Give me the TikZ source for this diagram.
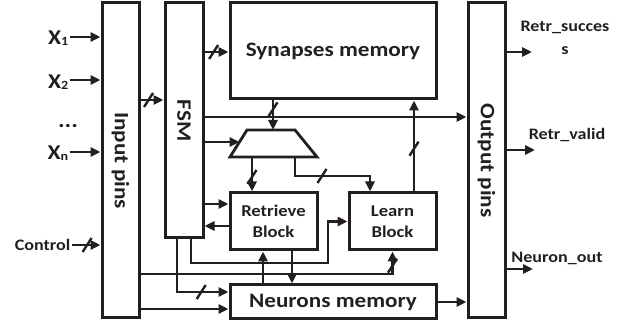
\documentclass[tikz,border=0pt]{standalone}
\usepackage{fontspec}
\setmainfont{Carlito}[FakeStretch=1.13]
\usetikzlibrary{arrows.meta}
\definecolor{ink}{RGB}{35,31,32}
\tikzset{
  box/.style={draw=ink, line width=3pt, inner sep=0pt, text=ink, align=center},
  bigf/.style={font=\bfseries\fontsize{20.5}{24}\selectfont},
  midf/.style={font=\bfseries\fontsize{16.5}{21}\selectfont},
  arr/.style={draw=ink, line width=2.8pt, -{Triangle[length=10pt,width=9pt]}},
  lbl/.style={font=\bfseries\fontsize{16}{23}\selectfont, text=ink, inner sep=1.5pt, align=center},
  xlbl/.style={font=\bfseries\fontsize{21}{22}\selectfont, text=ink, inner sep=1.5pt, anchor=base east},
  pics/bus/.style={code={\draw[ink, line width=2.4pt, -] (-4.5,7) -- (4.5,-7);}}
}
\newcommand\subnum[1]{{\fontsize{12.5}{12}\selectfont\raisebox{-0.5pt}{#1}}}
\begin{document}
\begin{tikzpicture}[x=1pt,y=-1pt]
\useasboundingbox (0,0) rectangle (633,326);
% blocks
\node[box, bigf, minimum width=37pt, minimum height=315pt] (inpins) at (120.5,160.5) {\rotatebox{-90}{Input pins}};
\node[box, bigf, minimum width=38pt, minimum height=235pt] (fsm) at (184,120.5) {\rotatebox{-90}{FSM}};
\node[box, bigf, minimum width=206pt, minimum height=96pt] (syn) at (333,51) {Synapses memory};
\node[box, bigf, minimum width=37pt, minimum height=315pt] (outpins) at (486.5,160.5) {\rotatebox{-90}{Output pins}};
\node[box, midf, minimum width=87pt, minimum height=57pt] (retr) at (273.5,221.5) {Retrieve\\Block};
\node[box, midf, minimum width=87pt, minimum height=57pt] (learn) at (392.5,221.5) {Learn\\Block};
\node[box, bigf, minimum width=206pt, minimum height=34pt] (neu) at (333,302) {Neurons memory};
% multiplexer
\draw[ink, line width=2.8pt, line join=miter] (247,130) -- (295,130) -- (317,157) -- (230,157) -- cycle;
\coordinate (muxN) at (273,130);
\coordinate (muxW) at (239.5,142);
\coordinate (muxS) at (273,157);
% input labels
\node[xlbl] (x1) at (70,45) {X\subnum{1}};
\node[xlbl] (x2) at (70,89) {X\subnum{2}};
\node[lbl, font=\bfseries\fontsize{22}{22}\selectfont] (dots) at (68,126) {...};
\node[xlbl] (xn) at (70,160) {X\subnum{n}};
\node[lbl, anchor=east] (ctrl) at (72,245) {Control};
% output labels
\node[lbl] (rs) at (565,38) {Retr\_succes\\s};
\node[lbl] (rv) at (567,135) {Retr\_valid};
\node[lbl] (no) at (557,258) {Neuron\_out};
\coordinate (o1) at (532,52);
\coordinate (o2) at (535,150);
\coordinate (o3) at (533,269);
% input arrows
\draw[arr] (x1.east |- 0,37) -- (inpins.west |- 0,37);
\draw[arr] (x2.east |- 0,80) -- (inpins.west |- 0,80);
\draw[arr] (xn.east |- 0,152) -- (inpins.west |- 0,152);
\draw[arr] (ctrl.east) -- pic[pos=.53]{bus} (inpins.west |- ctrl.east);
% output arrows
\draw[arr] (outpins.east |- o1) -- (o1);
\draw[arr] (outpins.east |- o2) -- (o2);
\draw[arr] (outpins.east |- o3) -- (o3);
% internal connectors
\draw[arr] (inpins.east |- 0,100) -- pic[pos=.35]{bus} (fsm.west |- 0,100);
\draw[arr] (fsm.east |- 0,52) -- pic[pos=.38]{bus} (syn.west |- 0,52);
\draw[arr] (fsm.east |- 0,117) -- (outpins.west |- 0,117);
\draw[arr] (fsm.east |- muxW) -- (muxW);
\draw[arr] (syn.south -| muxN) -- pic[pos=.3]{bus} (muxN);
\draw[arr] (muxS -| 252,0) -- pic[pos=.58]{bus} (retr.north -| 252,0);
\draw[arr] (muxS -| 295,0) -- (295,176) -- pic[pos=.36]{bus} (370,176) -- (learn.north -| 370,0);
\draw[arr] (learn.north -| 414,0) -- pic[pos=.47]{bus} (syn.south -| 414,0);
\draw[arr] (fsm.east |- 0,204) -- (retr.west |- 0,204);
\draw[arr] (retr.west |- 0,226) -- (fsm.east |- 0,226);
\draw[arr] (fsm.south -| 191,0) -- (191,263) -- (328,263) -- (328,0 |- learn.west) -- (learn.west);
\draw[arr] (fsm.south -| 177,0) -- (177,292) -- pic[pos=.47]{bus} (neu.west |- 0,292);
\draw[arr] (inpins.east |- 0,274) -- (learn.south |- 0,274) -- pic[pos=.37]{bus} (learn.south);
\draw[arr] (inpins.east |- 0,309) -- (neu.west |- 0,309);
\draw[arr] (neu.north -| 263,0) -- (retr.south -| 263,0);
\draw[arr] (retr.south -| 292,0) -- (neu.north -| 292,0);
\draw[arr] (neu.east) -- (outpins.west |- neu.east);
\end{tikzpicture}
\end{document}
